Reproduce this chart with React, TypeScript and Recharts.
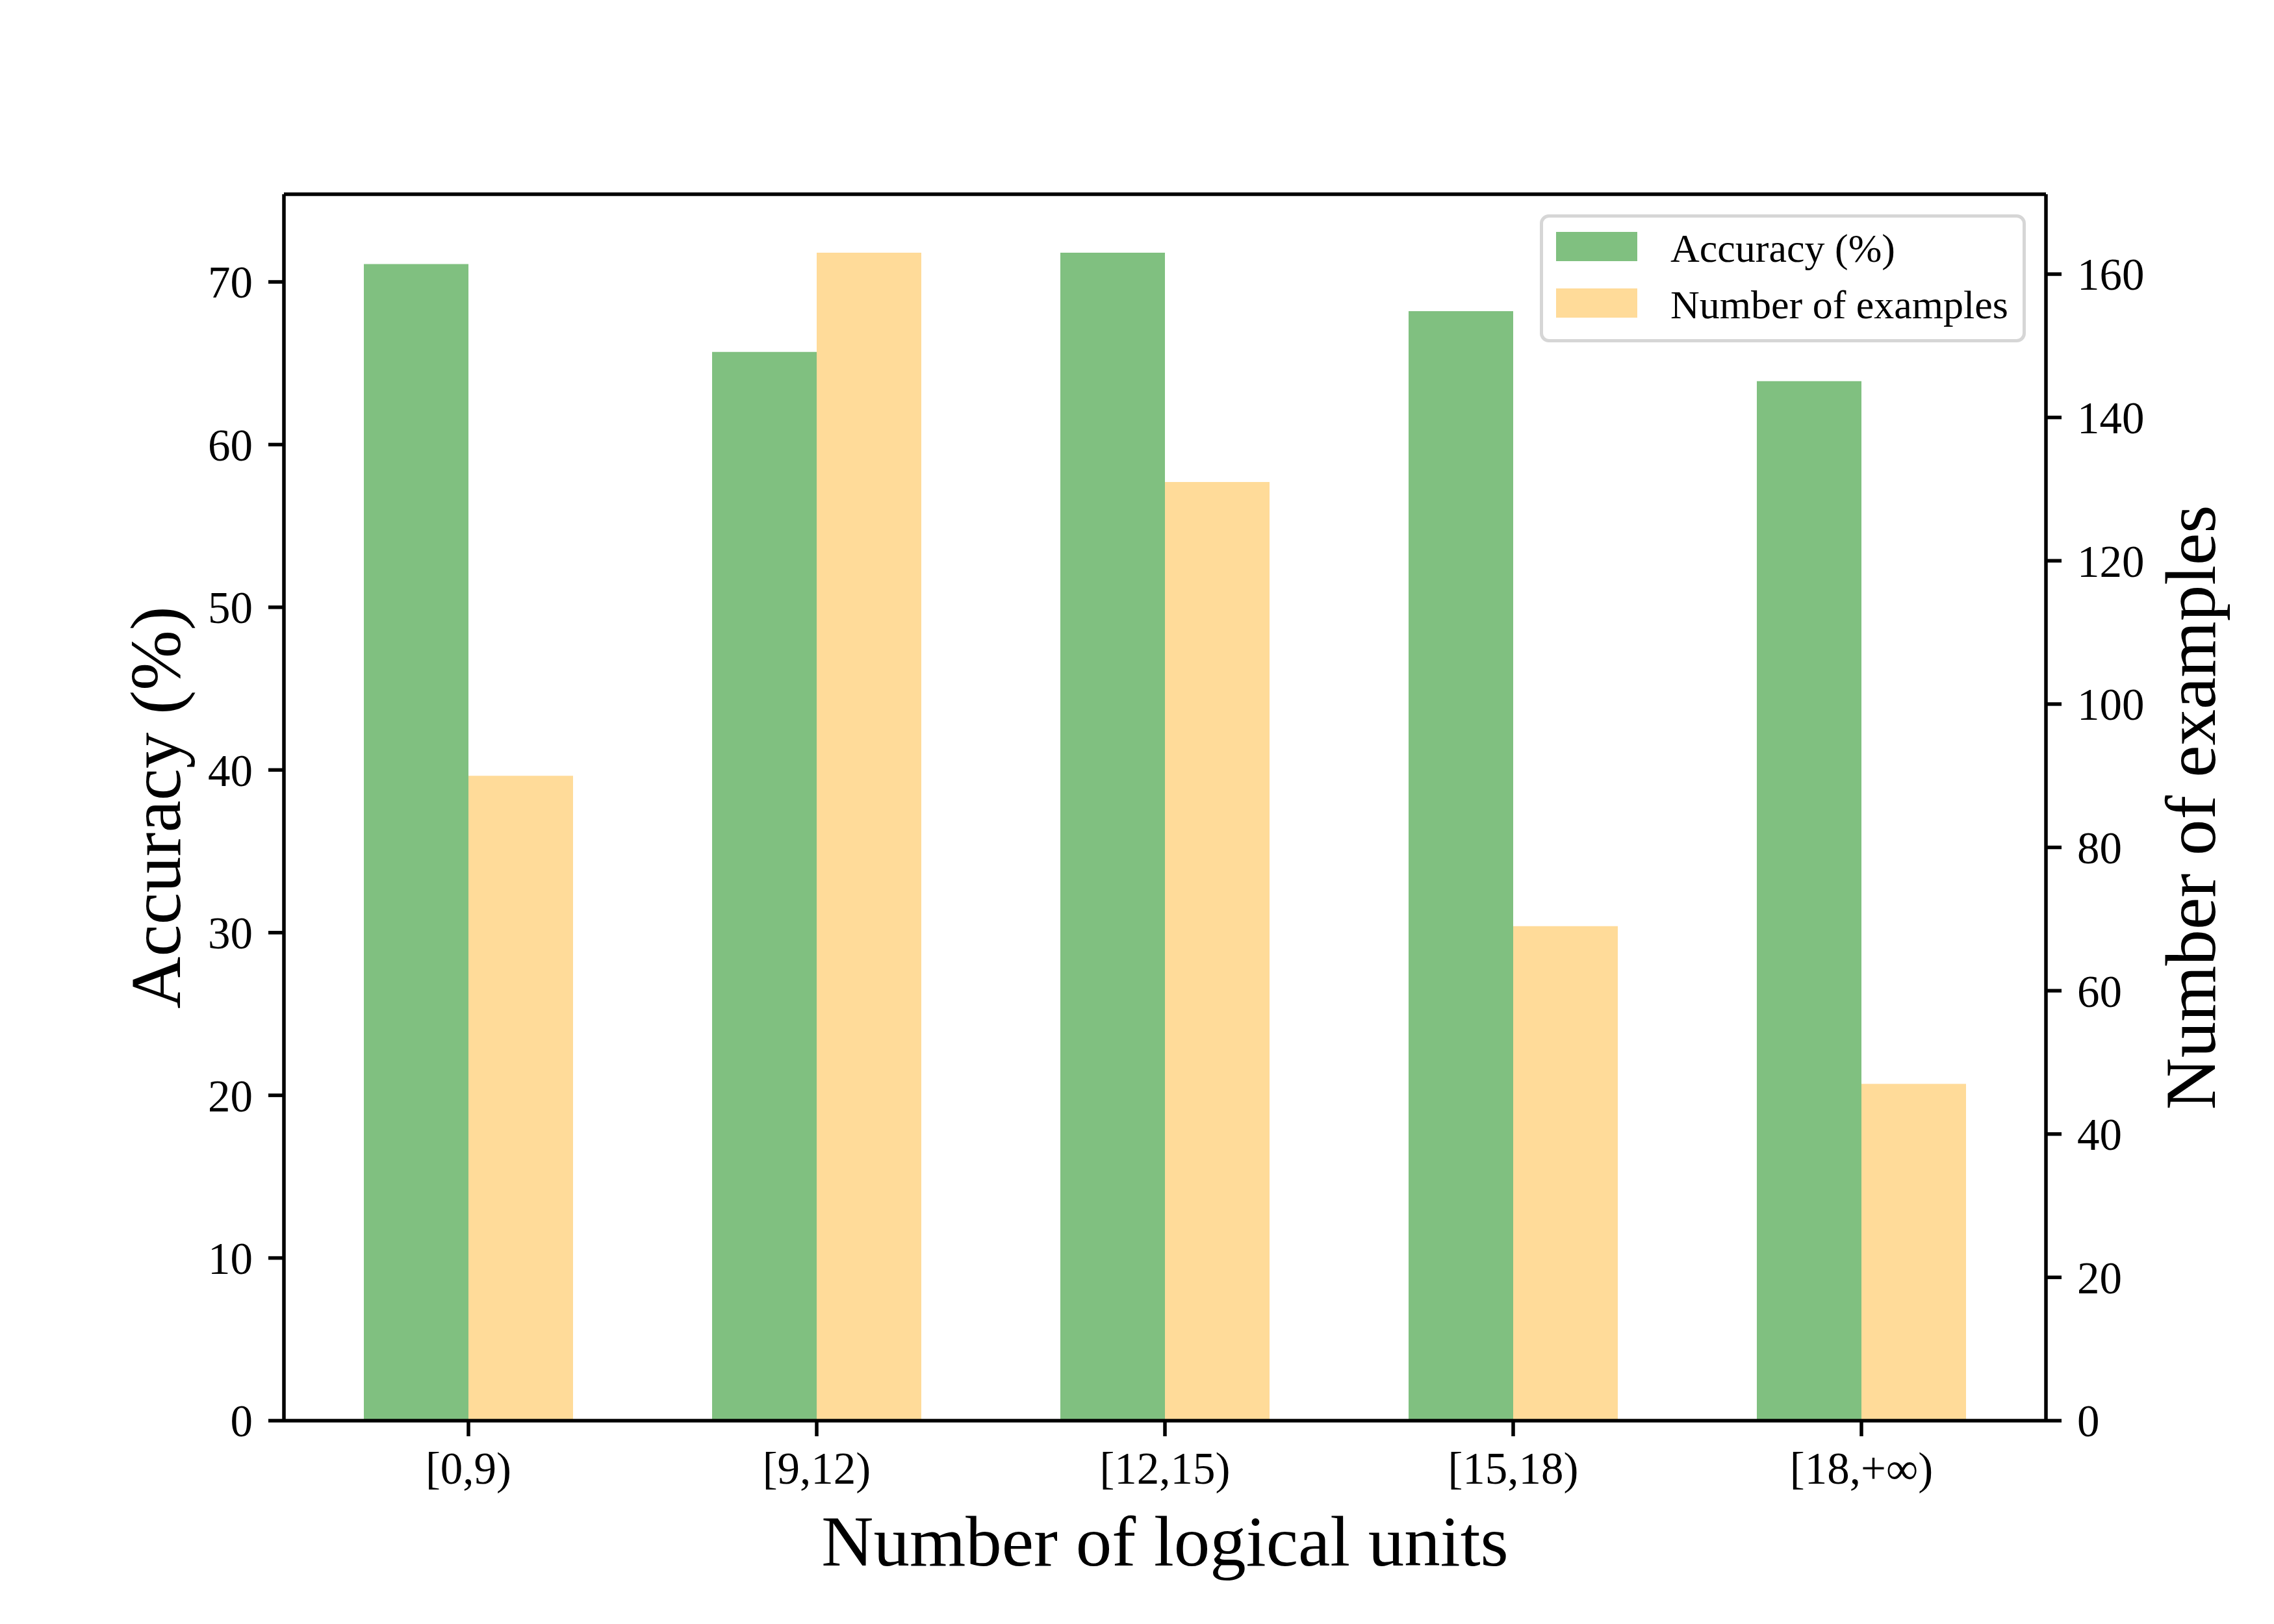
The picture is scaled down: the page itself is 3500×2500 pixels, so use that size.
import React from 'react';
import { BarChart, Bar, XAxis, YAxis, Legend, ReferenceLine } from 'recharts';

const categories = ['[0,9)', '[9,12)', '[12,15)', '[15,18)', '[18,+∞)'];
const accuracy = [71.1, 65.7, 71.8, 68.2, 63.9];
const examples = [90, 163, 131, 69, 47];
const accTicks = [0, 10, 20, 30, 40, 50, 60, 70];
const exTicks = [0, 20, 40, 60, 80, 100, 120, 140, 160];

const GREEN = '#80C080';
const YELLOW = '#FFDB99';
const FONT = '"Liberation Serif", "Times New Roman", serif';

const data = categories.map((name, i) => ({ name, accuracy: accuracy[i], examples: examples[i] }));

// matplotlib style 5% top margin
const accMax = Math.max(...accuracy) * 1.05;
const exMax = Math.max(...examples) * 1.05;

const axisStyle = { stroke: '#000', strokeWidth: 5.5 };
const tickStyle = { fill: '#000', fontSize: 69, fontFamily: FONT };

const YTitle = (props: any) => {
  const vb = props.viewBox || {};
  const cx = vb.x + vb.width / 2 + (props.shift || 0);
  const cy = vb.y + vb.height / 2;
  return (
    <text
      x={cx}
      y={cy}
      transform={`rotate(-90, ${cx}, ${cy})`}
      textAnchor="middle"
      dominantBaseline="central"
      fontSize={111}
      fontFamily={FONT}
      fill="#000"
    >
      {props.text}
    </text>
  );
};

const XTitle = (props: any) => {
  const vb = props.viewBox || {};
  return (
    <text
      x={vb.x + vb.width / 2}
      y={vb.y + 223}
      textAnchor="middle"
      fontSize={111}
      fontFamily={FONT}
      fill="#000"
    >
      {props.text}
    </text>
  );
};

const legendRows = [
  { label: 'Accuracy (%)', color: GREEN },
  { label: 'Number of examples', color: YELLOW },
];

const LegendBox = () => (
  <div
    style={{
      position: 'relative',
      width: 748,
      height: 197,
      boxSizing: 'border-box',
      border: '5px solid #d6d6d6',
      borderRadius: 14,
      background: 'rgba(255,255,255,0.8)',
      fontFamily: FONT,
    }}
  >
    {legendRows.map((r, i) => (
      <React.Fragment key={r.label}>
        <div
          style={{
            position: 'absolute',
            left: 20,
            top: 22 + i * 87,
            width: 125,
            height: 45,
            background: r.color,
          }}
        />
        <div
          style={{
            position: 'absolute',
            left: 196,
            top: 47 + i * 87,
            transform: 'translateY(-50%)',
            fontSize: 62,
            lineHeight: 1,
            whiteSpace: 'nowrap',
            color: '#000',
          }}
        >
          {r.label}
        </div>
      </React.Fragment>
    ))}
  </div>
);

export default function App() {
  return (
    <div style={{ position: 'absolute', left: 0, top: 0, width: 3500, height: 2500, background: '#fff' }}>
      <BarChart
        width={3500}
        height={2500}
        data={data}
        barGap={0}
        margin={{ top: 299, right: 51, bottom: 63, left: 41 }}
      >
        <XAxis
          dataKey="name"
          height={250}
          padding={{ left: 16, right: 16 }}
          axisLine={axisStyle}
          tickLine={axisStyle}
          tickSize={24}
          tickMargin={24}
          tick={tickStyle}
          interval={0}
          label={<XTitle text="Number of logical units" />}
        />
        <YAxis
          yAxisId="left"
          width={396}
          domain={[0, accMax]}
          ticks={accTicks}
          allowDataOverflow
          axisLine={axisStyle}
          tickLine={axisStyle}
          tickSize={24}
          tickMargin={24}
          tick={tickStyle}
          label={<YTitle text="Accuracy (%)" shift={0} />}
        />
        <YAxis
          yAxisId="right"
          orientation="right"
          width={300}
          domain={[0, exMax]}
          ticks={exTicks}
          allowDataOverflow
          axisLine={axisStyle}
          tickLine={axisStyle}
          tickSize={24}
          tickMargin={24}
          tick={tickStyle}
          label={<YTitle text="Number of examples" shift={72} />}
        />
        <ReferenceLine yAxisId="left" y={accMax} stroke="#000" strokeWidth={5.5} ifOverflow="visible" />
        <Legend
          layout="horizontal"
          verticalAlign="middle"
          align="center"
          content={() => <LegendBox />}
          wrapperStyle={{ position: 'absolute', left: 2370, top: 330, width: 748, height: 197 }}
        />
        <Bar dataKey="accuracy" yAxisId="left" fill={GREEN} barSize={161} isAnimationActive={false} />
        <Bar dataKey="examples" yAxisId="right" fill={YELLOW} barSize={161} isAnimationActive={false} />
      </BarChart>
    </div>
  );
}
